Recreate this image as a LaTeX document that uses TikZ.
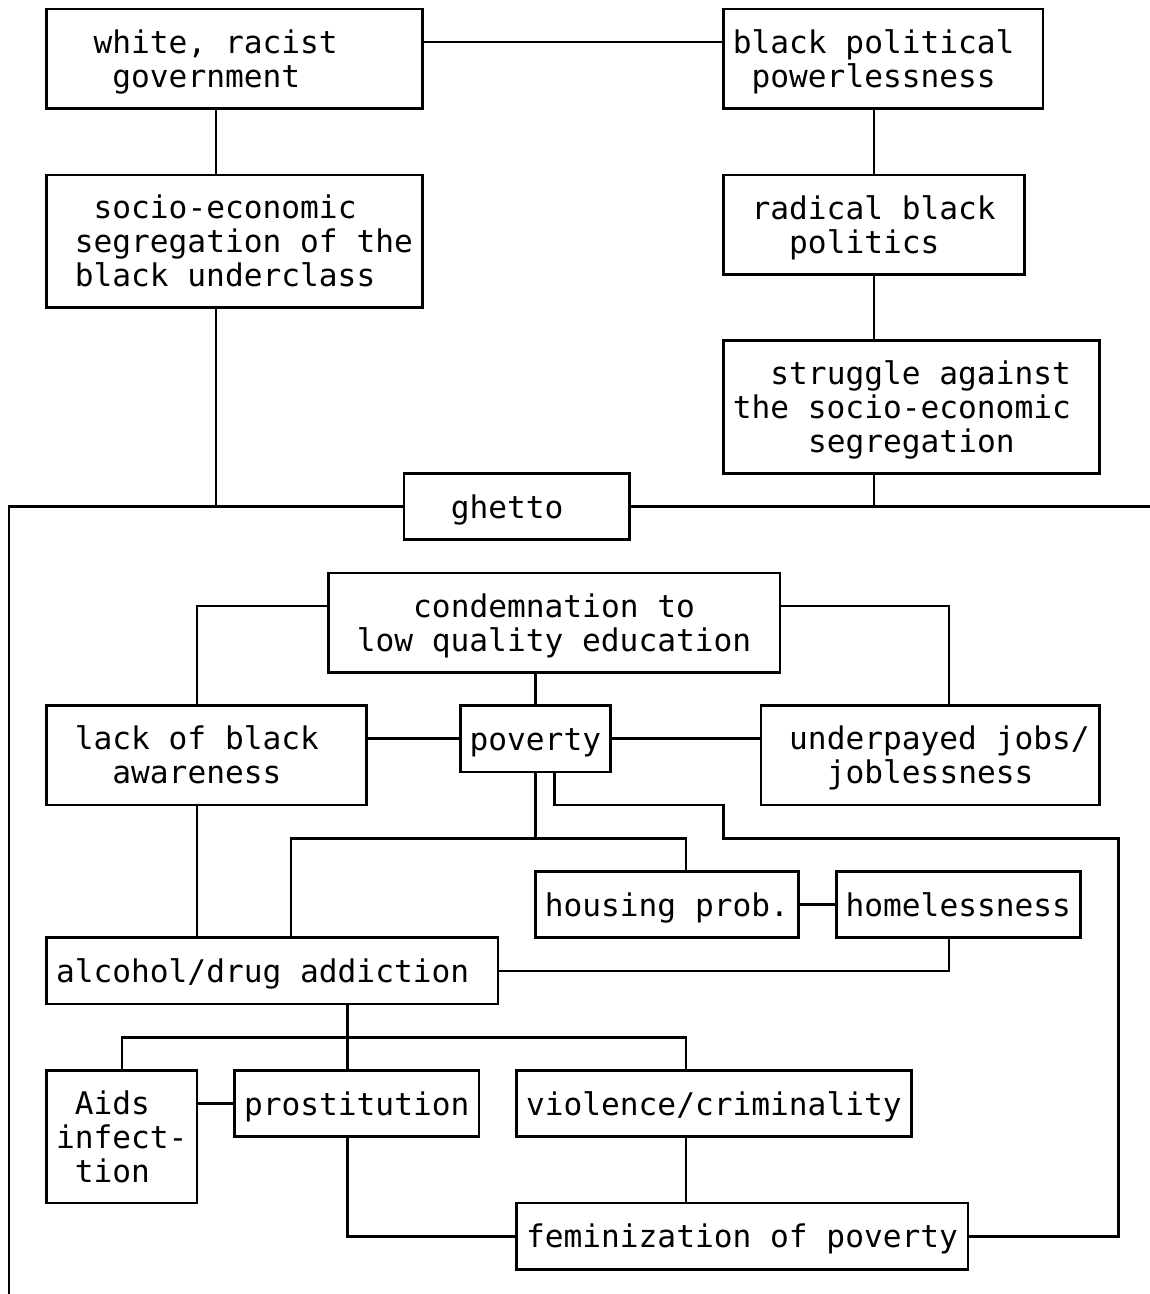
\documentclass[tikz,border=0pt]{standalone}
\usepackage{fontspec}
\newfontfamily\mono{DejaVu Sans Mono}
\newlength\chw \setlength\chw{18.8pt}
\newlength\rh \setlength\rh{33.17pt}
\newlength\monosp \setlength\monosp{18.78pt}
\newcommand\boxfont{\mono\fontsize{31.2pt}{33.17pt}\selectfont}
\newcommand\txl[2]{\hspace*{#1\chw}\smash{\spaceskip=\monosp\xspaceskip=\monosp\relax #2}\vrule height 28.085pt depth 5.085pt width 0pt}
\newcommand\mkbox[6]{%
  \pgfmathsetmacro\bw{(#4-#2)*18.8}%
  \pgfmathsetmacro\bh{(#5-#3)*33.17}%
  \node[box, minimum width=\bw pt, minimum height=\bh pt, text width=\bw pt] (#1) at ({(#2+#4)/2},{(#3+#5)/2}) {#6};}
\tikzset{
  box/.style={draw, line width=2.6pt, inner sep=0pt, outer sep=0pt, align=left, font=\boxfont},
  conn/.style={line width=2.6pt, line join=miter}
}
\begin{document}
\begin{tikzpicture}[x=18.8pt, y=-33.17pt]
\useasboundingbox[fill=white] (-0.4787,-0.2713) rectangle (60.6915,38.7399);

\mkbox{b1}{2}{0}{22}{3}{\txl{2.5}{white, racist}\\\txl{3.5}{government}}
\mkbox{b2}{38}{0}{55}{3}{\txl{0.5}{black political}\\\txl{1.5}{powerlessness}}
\mkbox{b3}{2}{5}{22}{9}{\txl{2.5}{socio-economic}\\\txl{1.5}{segregation of the}\\\txl{1.5}{black underclass}}
\mkbox{b4}{38}{5}{54}{8}{\txl{1.5}{radical black}\\\txl{3.5}{politics}}
\mkbox{b5}{38}{10}{58}{14}{\txl{2.5}{struggle against}\\\txl{0.5}{the socio-economic}\\\txl{4.5}{segregation}}
\mkbox{ghetto}{21}{14}{33}{16}{\txl{2.5}{ghetto}}
\mkbox{condemn}{17}{17}{41}{20}{\txl{4.5}{condemnation to}\\\txl{1.5}{low quality education}}
\mkbox{lack}{2}{21}{19}{24}{\txl{1.5}{lack of black}\\\txl{3.5}{awareness}}
\mkbox{poverty}{24}{21}{32}{23}{\txl{0.5}{poverty}}
\mkbox{under}{40}{21}{58}{24}{\txl{1.5}{underpayed jobs/}\\\txl{3.5}{joblessness}}
\mkbox{housing}{28}{26}{42}{28}{\txl{0.5}{housing prob.}}
\mkbox{homeless}{44}{26}{57}{28}{\txl{0.5}{homelessness}}
\mkbox{alcohol}{2}{28}{26}{30}{\txl{0.5}{alcohol/drug addiction}}
\mkbox{aids}{2}{32}{10}{36}{\txl{1.5}{Aids}\\\txl{0.5}{infect-}\\\txl{1.5}{tion}}
\mkbox{prost}{12}{32}{25}{34}{\txl{0.5}{prostitution}}
\mkbox{viol}{27}{32}{48}{34}{\txl{0.5}{violence/criminality}}
\mkbox{femin}{27}{36}{51}{38}{\txl{0.5}{feminization of poverty}}

\coordinate (gl) at (0,15);
\coordinate (bl) at (0,38.7399);
\coordinate (gr) at (60.6915,15);
\coordinate (jA) at (28,25);
\coordinate (jB) at (38,24);
\coordinate (jC) at (38,25);
\coordinate (jD) at (59,25);
\coordinate (jE) at (18,31);

% top part
\draw[conn] ([yshift=-\rh]b1.north east) -- ([yshift=-\rh]b2.north west);
\draw[conn] ([xshift=-\chw]b1.south) -- ([xshift=-\chw]b3.north);
\draw[conn] ([xshift=-\chw]b3.south) -- ([xshift=-\chw]b3.south |- ghetto.west);
\draw[conn] (b4.north) -- (b4.north |- b2.south);
\draw[conn] (b4.south) -- (b4.south |- b5.north);
\draw[conn] (b4.south |- b5.south) -- (b4.south |- ghetto.east);
\draw[conn] (ghetto.west) -- (gl) -- (bl);
\draw[conn] (ghetto.east) -- (gr);

% middle
\draw[conn] ([yshift=-\rh]condemn.north west) -| ([xshift=-0.5*\chw]lack.north);
\draw[conn] ([yshift=-\rh]condemn.north east) -| ([xshift=\chw]under.north);
\draw[conn] (condemn.south -| poverty.north) -- (poverty.north);
\draw[conn] (poverty.west -| lack.east) -- (poverty.west);
\draw[conn] (poverty.east) -- (poverty.east -| under.west);
\draw[conn] (poverty.south) -- (jA);
\draw[conn] ([xshift=\chw]alcohol.north) |- (jA) -| ([xshift=\chw]housing.north);
\draw[conn] ([xshift=\chw]poverty.south) |- (jB) -- (jC) -- (jD) |- (femin.east);
\draw[conn] ([xshift=-0.5*\chw]lack.south) -- ([xshift=-0.5*\chw]lack.south |- alcohol.north);
\draw[conn] (housing.east) -- (homeless.west);
\draw[conn] ([xshift=-0.5*\chw]homeless.south) |- (alcohol.east);

% bottom
\draw[conn] ([xshift=4*\chw]alcohol.south) -- ([xshift=-0.5*\chw]prost.north);
\draw[conn] (aids.north) |- (jE) -| ([xshift=-1.5*\chw]viol.north);
\draw[conn] (prost.west -| aids.east) -- (prost.west);
\draw[conn] ([xshift=-0.5*\chw]prost.south) |- (femin.west);
\draw[conn] ([xshift=-1.5*\chw]viol.south) -- ([xshift=-1.5*\chw]viol.south |- femin.north);
\end{tikzpicture}
\end{document}
